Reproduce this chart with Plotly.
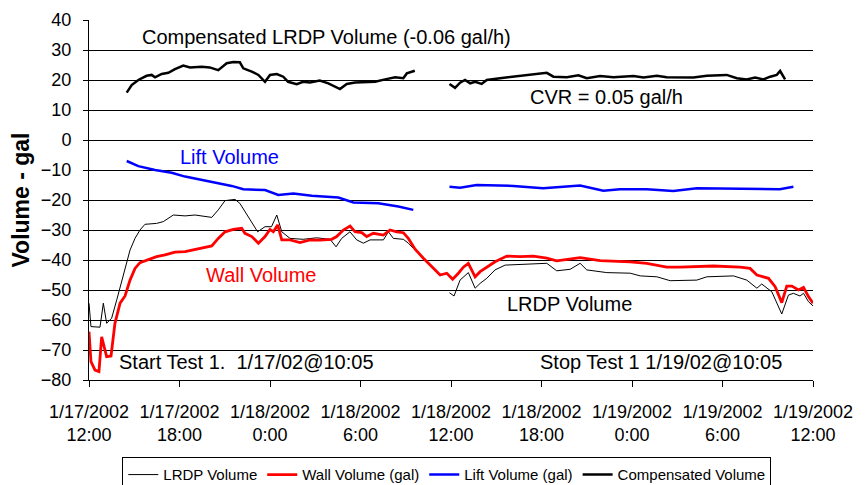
import plotly.graph_objects as go

# Hours elapsed since 1/17/2002 12:00
tick_hours = [0, 6, 12, 18, 24, 30, 36, 42, 48]
tick_labels = ["1/17/2002<br>12:00", "1/17/2002<br>18:00", "1/18/2002<br>0:00",
               "1/18/2002<br>6:00", "1/18/2002<br>12:00", "1/18/2002<br>18:00",
               "1/19/2002<br>0:00", "1/19/2002<br>6:00", "1/19/2002<br>12:00"]

# LRDP Volume (gal) - two recorded segments
lrdp_hours_a = [0, 0.13, 0.73, 0.95, 1.17, 1.5, 1.84, 2.17, 2.5, 2.72, 3.05, 3.38, 3.71, 4.48,
                4.93, 5.59, 6.37, 7.03, 8.14, 8.57, 9.02, 9.68, 10.0, 10.56, 11.18, 11.67,
                12.1, 12.45, 12.78, 13.33, 14.2, 15.09, 15.98, 16.38, 16.75, 17.3, 17.75,
                18.19, 18.63, 19.52, 19.85, 20.18, 20.84, 21.17, 21.5]
lrdp_vals_a = [-54.4, -62.2, -62.4, -54.4, -61.1, -59.4, -53.3, -46.7, -41.1, -36.7, -32.8,
               -30.0, -28.1, -27.8, -27.2, -25.0, -25.3, -25.0, -25.8, -23.3, -20.2, -19.8,
               -21.1, -25.6, -30.6, -28.9, -28.9, -25.0, -30.6, -32.8, -33.1, -32.6, -33.1,
               -35.6, -32.8, -30.6, -33.3, -34.4, -33.3, -33.3, -30.6, -32.8, -33.1, -34.4,
               -36.1]
lrdp_hours_b = [23.9, 24.2, 24.6, 25.15, 25.6, 25.93, 26.37, 26.92, 27.59, 30.35, 31.01,
                31.9, 32.56, 33.0, 34.33, 35.88, 36.55, 37.65, 38.53, 40.3, 40.96, 42.73,
                43.61, 44.28, 44.6, 45.27, 45.93, 46.37, 46.7, 47.14, 47.37, 47.7, 48.0]
lrdp_vals_b = [-50.9, -52.0, -46.7, -44.2, -49.4, -47.8, -46.1, -43.3, -41.7, -41.1, -43.6,
               -43.1, -41.1, -43.3, -44.2, -44.4, -45.3, -45.6, -46.9, -46.7, -45.6, -45.3,
               -46.7, -49.4, -48.0, -50.6, -58.0, -51.7, -51.1, -52.0, -51.1, -53.9, -55.3]

# Wall Volume (gal) - continuous
wall_hours = [0, 0.13, 0.4, 0.66, 0.84, 1.17, 1.46, 1.72, 2.06, 2.39, 2.72, 3.05, 3.38, 3.82,
              4.48, 5.04, 5.7, 6.37, 7.03, 7.69, 8.14, 8.57, 9.02, 9.57, 10.12, 10.34, 10.79,
              11.23, 11.67, 12.0, 12.22, 12.51, 12.78, 13.33, 13.99, 14.65, 15.32, 16.09,
              16.42, 16.86, 17.31, 17.64, 18.08, 18.41, 18.85, 19.52, 19.96, 20.4, 20.84,
              21.17, 21.62, 22.17, 22.83, 23.28, 23.72, 24.11, 24.49, 24.82, 25.15, 25.6,
              25.93, 26.37, 26.92, 27.7, 28.58, 29.46, 30.35, 31.01, 32.56, 33.89, 35.88,
              36.98, 38.3, 39.19, 41.4, 43.17, 43.83, 44.28, 45.05, 45.49, 45.93, 46.26,
              46.6, 47.04, 47.37, 47.7, 48.0]
wall_vals = [-63.9, -73.9, -76.7, -77.2, -65.6, -72.2, -72.0, -61.1, -54.4, -52.0, -46.7,
             -42.8, -40.9, -40.0, -38.9, -38.3, -37.4, -37.2, -36.4, -35.8, -35.3, -32.8,
             -30.6, -29.8, -29.4, -31.1, -32.2, -34.4, -32.2, -29.8, -30.6, -28.3, -33.3,
             -33.3, -34.2, -33.3, -33.4, -33.1, -32.2, -30.0, -28.7, -30.6, -30.9, -32.2,
             -31.1, -31.7, -30.0, -30.6, -30.9, -32.8, -36.4, -39.4, -42.8, -45.0, -44.4,
             -46.4, -44.4, -42.4, -41.1, -45.6, -43.9, -42.4, -40.6, -38.7, -38.9, -38.7,
             -39.4, -40.3, -39.2, -40.2, -40.6, -41.1, -42.4, -42.4, -42.0, -42.4, -42.8,
             -45.0, -46.1, -48.9, -54.2, -48.7, -48.7, -50.0, -49.1, -52.2, -54.4]

# Lift Volume (gal) - two segments
lift_hours_a = [2.5, 3.27, 4.38, 5.48, 6.37, 7.47, 8.57, 9.46, 10.23, 11.67, 12.55, 13.55,
                14.77, 16.53, 17.53, 19.18, 20.51, 21.5]
lift_vals_a = [-7.0, -8.7, -10.0, -10.9, -12.2, -13.3, -14.4, -15.3, -16.4, -16.7, -18.3,
               -17.8, -18.6, -19.2, -20.8, -21.1, -22.2, -23.3]
lift_hours_b = [23.9, 24.6, 25.7, 28.14, 30.1, 32.56, 34.1, 35.2, 36.97, 38.74, 40.3, 44.7,
                45.8, 46.7]
lift_vals_b = [-15.6, -15.9, -15.0, -15.3, -16.1, -15.2, -16.9, -16.4, -16.4, -17.0, -16.1,
               -16.4, -16.4, -15.6]

# Compensated Volume (gal) - two segments
comp_hours_a = [2.5, 2.83, 3.27, 3.82, 4.15, 4.38, 4.82, 5.26, 5.7, 6.25, 6.7, 7.47, 8.0,
                8.57, 9.13, 9.57, 10.0, 10.23, 10.79, 11.23, 11.67, 12.0, 12.45, 12.88, 13.2,
                13.77, 14.2, 14.65, 15.3, 15.87, 16.64, 17.09, 17.64, 18.3, 18.97, 19.63,
                20.3, 20.84, 21.07, 21.6]
comp_vals_a = [15.8, 18.3, 20.0, 21.4, 21.7, 20.9, 22.0, 22.4, 23.6, 24.8, 24.2, 24.4, 24.2,
               23.3, 25.6, 26.0, 25.9, 23.9, 22.8, 21.7, 19.4, 21.7, 22.0, 21.1, 19.4, 18.6,
               19.4, 19.2, 19.8, 18.9, 17.0, 18.7, 19.2, 19.2, 19.4, 20.2, 20.9, 20.6, 22.2,
               23.1]
comp_hours_b = [23.9, 24.27, 24.6, 24.93, 25.27, 25.6, 26.03, 26.37, 27.25, 28.36, 29.69,
                30.35, 30.79, 31.68, 32.45, 33.0, 33.89, 34.77, 36.1, 36.76, 37.65, 38.3,
                40.07, 40.96, 42.28, 42.95, 43.61, 44.16, 44.71, 45.16, 45.6, 45.82, 46.15]
comp_vals_b = [18.7, 17.4, 19.1, 20.0, 18.9, 19.4, 18.7, 20.0, 20.6, 21.3, 21.9, 22.4, 21.1,
               20.9, 21.6, 20.6, 21.3, 20.9, 21.3, 20.8, 21.4, 20.9, 20.8, 21.4, 21.7, 20.6,
               20.2, 20.8, 20.2, 21.1, 21.7, 23.0, 20.2]

FONT = "Liberation Sans, Arial, sans-serif"


def join(ha, va, hb, vb):
    return ha + [None] + hb, va + [None] + vb


fig = go.Figure()
x, y = join(lrdp_hours_a, lrdp_vals_a, lrdp_hours_b, lrdp_vals_b)
fig.add_trace(go.Scatter(x=x, y=y, mode="lines", name="LRDP Volume",
                         line=dict(color="black", width=1)))
fig.add_trace(go.Scatter(x=wall_hours, y=wall_vals, mode="lines", name="Wall Volume (gal)",
                         line=dict(color="#ff0000", width=2.8)))
x, y = join(lift_hours_a, lift_vals_a, lift_hours_b, lift_vals_b)
fig.add_trace(go.Scatter(x=x, y=y, mode="lines", name="Lift Volume (gal)",
                         line=dict(color="#0000ff", width=2.5)))
x, y = join(comp_hours_a, comp_vals_a, comp_hours_b, comp_vals_b)
fig.add_trace(go.Scatter(x=x, y=y, mode="lines", name="Compensated Volume",
                         line=dict(color="black", width=2.5)))

notes = [
    (3.38, 34.3, "Compensated LRDP Volume (-0.06 gal/h)", "black"),
    (29.1, 14.3, "CVR = 0.05 gal/h", "black"),
    (5.9, -5.7, "Lift Volume", "#0000ff"),
    (7.63, -45.0, "Wall Volume", "#ff0000"),
    (27.6, -54.7, "LRDP Volume", "black"),
    (1.86, -74.0, "Start Test 1.  1/17/02@10:05", "black"),
    (29.8, -74.0, "Stop Test 1 1/19/02@10:05", "black"),
]
for hx, vy, txt, col in notes:
    fig.add_annotation(x=hx, y=vy, text=txt, showarrow=False, xanchor="left",
                       yanchor="middle", font=dict(family=FONT, size=20, color=col))

# page body adds an 8px offset, so the figure is sized to fit the 865x485 window
fig.update_layout(
    width=857, height=477,
    margin=dict(l=81, r=52, t=12, b=105, autoexpand=False),
    paper_bgcolor="white", plot_bgcolor="white",
    font=dict(family=FONT, color="black"),
    showlegend=True,
    legend=dict(orientation="h", x=0.512, xref="container", xanchor="center",
                y=0.058, yref="container", yanchor="top",
                bordercolor="black", borderwidth=1, font=dict(size=15, family=FONT),
                itemwidth=30, tracegroupgap=0),
)
fig.update_xaxes(range=[0, 48], tickvals=tick_hours, ticktext=tick_labels,
                 showgrid=False, zeroline=False, showline=True, linecolor="black",
                 linewidth=1, ticks="outside", ticklen=6, tickcolor="black",
                 ticklabelstandoff=9, automargin=False,
                 tickfont=dict(size=18, family=FONT))
fig.update_yaxes(range=[-80, 40], dtick=10, showgrid=True, gridcolor="black", gridwidth=1,
                 zeroline=False, showline=True, linecolor="black", linewidth=1,
                 ticks="outside", ticklen=5, tickcolor="black", automargin=False,
                 ticklabelstandoff=8,
                 tickfont=dict(size=18, family=FONT),
                 title=dict(text="<b>Volume - gal</b>", font=dict(size=23, family=FONT),
                            standoff=12))

fig.write_html("out.html")
